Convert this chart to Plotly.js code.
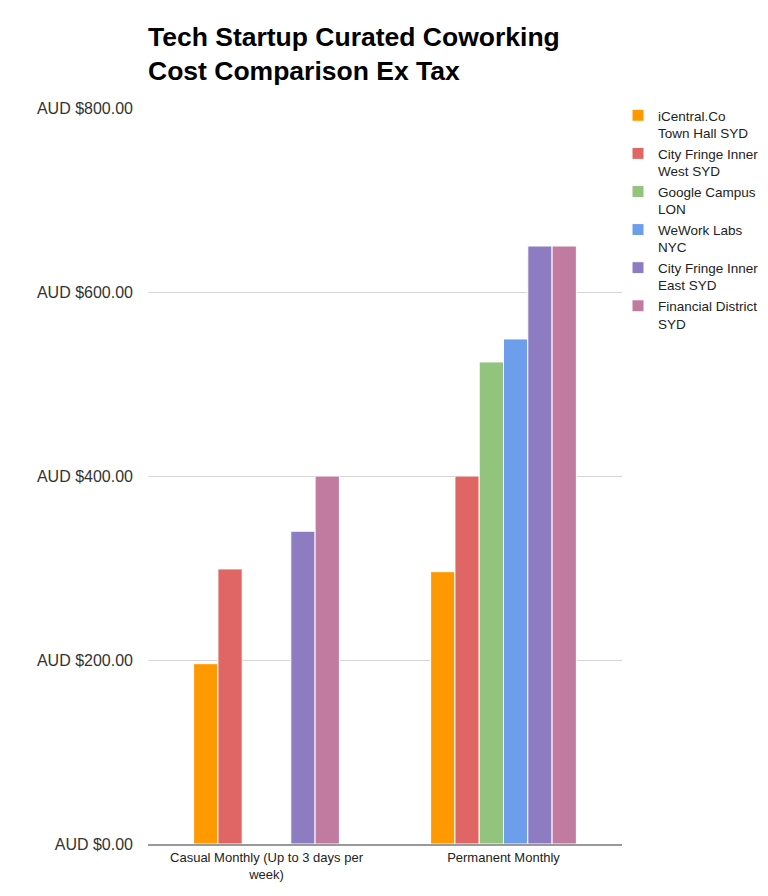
<!DOCTYPE html>
<html>
<head>
<meta charset="utf-8">
<script src="https://cdn.plot.ly/plotly-3.0.1.min.js"></script>
<style>html,body{margin:0;padding:0;background:#fff;}#chart{width:768px;height:896px;}</style>
</head>
<body>
<div id="chart"></div>
<script>
const categories = ["Casual Monthly (Up to 3 days per<br>week)", "Permanent Monthly"];
const seriesNames = [
  "iCentral.Co<br>Town Hall SYD",
  "City Fringe Inner<br>West SYD",
  "Google Campus<br>LON",
  "WeWork Labs<br>NYC",
  "City Fringe Inner<br>East SYD",
  "Financial District<br>SYD"
];
const iCentral = [196, 296];
const cityFringeWest = [299, 400];
const googleCampus = [null, 524];
const weWorkLabs = [null, 549];
const cityFringeEast = [340, 650];
const financialDistrict = [400, 650];
const colors = ["#ff9900", "#e06666", "#93c47d", "#6d9eeb", "#8e7cc3", "#c27ba0"];

const seriesValues = [iCentral, cityFringeWest, googleCampus, weWorkLabs, cityFringeEast, financialDistrict];

const data = seriesValues.map((vals, i) => ({
  type: "bar",
  name: seriesNames[i],
  x: categories,
  y: vals,
  marker: { color: colors[i], line: { color: "#ffffff", width: 1 } },
  hoverinfo: "x+y+name"
}));

const layout = {
  width: 768,
  height: 896,
  paper_bgcolor: "#ffffff",
  plot_bgcolor: "#ffffff",
  font: { family: "Liberation Sans, Arial, sans-serif", color: "#222" },
  margin: { l: 148, r: 146, t: 108, b: 52, autoexpand: false },
  title: {
    text: "<b>Tech Startup Curated Coworking<br>Cost Comparison Ex Tax</b>",
    x: 148 / 768,
    xanchor: "left",
    xref: "container",
    yref: "container",
    y: 1 - 46 / 896,
    yanchor: "top",
    font: { size: 26.5, color: "#000", family: "Liberation Sans, Arial, sans-serif" }
  },
  barmode: "group",
  bargap: 0.385,
  bargroupgap: 0,
  xaxis: {
    showgrid: false,
    showline: true,
    linecolor: "#999",
    linewidth: 2,
    ticks: "",
    tickfont: { size: 13, color: "#222" },
    fixedrange: true
  },
  yaxis: {
    range: [0, 800],
    dtick: 200,
    tick0: 0,
    tickprefix: "AUD $",
    tickformat: ".2f",
    showgrid: true,
    gridcolor: "#d6d6d6",
    gridwidth: 1,
    zeroline: false,
    showline: false,
    ticks: "",
    ticklabelstandoff: 14,
    tickfont: { size: 16, color: "#333" },
    fixedrange: true
  },
  showlegend: true,
  legend: {
    xref: "container",
    yref: "container",
    x: 618 / 768,
    xanchor: "left",
    y: 1 - 100 / 896,
    yanchor: "top",
    valign: "top",
    font: { size: 13.5, color: "#222" },
    tracegroupgap: 0,
    itemwidth: 30,
    bgcolor: "rgba(0,0,0,0)"
  }
};

Plotly.newPlot("chart", data, layout, { displayModeBar: false, staticPlot: true });
</script>
</body>
</html>
